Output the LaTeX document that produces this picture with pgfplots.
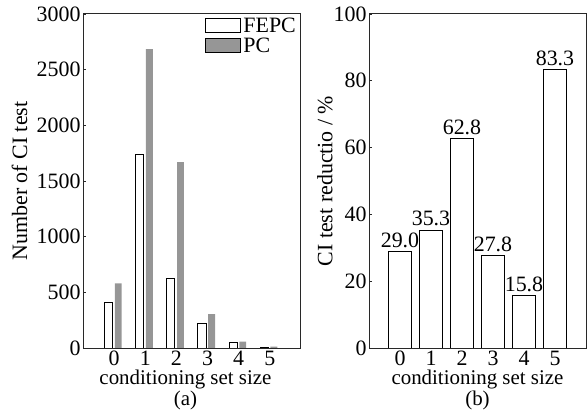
\documentclass[border=0pt]{standalone}
\usepackage{fontspec}
\setmainfont{Liberation Serif}
\usepackage{pgfplots}
\pgfplotsset{compat=1.18}
\definecolor{pcgray}{RGB}{150,150,150}
\definecolor{frame}{RGB}{40,40,40}

\pgfplotsset{panel/.style={
  scale only axis, width=218bp, height=334bp,
  font=\fontsize{22}{20}\selectfont,
  /pgf/number format/assume math mode=true,
  axis line style={frame,line width=1bp},
  xmin=-1, xmax=6, xtick={0,...,5},
  xtick style={draw=none},
  xticklabel style={inner sep=0pt, anchor=north, yshift=-3bp},
  ytick pos=left, tick align=inside, major tick length=3bp,
  ytick style={frame,line width=0.8bp},
  xlabel style={align=center, anchor=north, inner sep=0pt, font=\fontsize{21}{21}\selectfont},
  ylabel style={anchor=center},
  yticklabel style={xshift=1bp},
  scaled y ticks=false,
}}

\begin{document}
\begin{tikzpicture}
\useasboundingbox (0,0) rectangle (587bp,413bp);

% (a) number of CI tests
\begin{axis}[panel, at={(83bp,65bp)}, anchor=south west,
  ymin=0, ymax=3000, ytick={0,500,...,3000},
  yticklabel style={/pgf/number format/.cd,set thousands separator={}},
  xlabel={conditioning set size\\(a)},
  xlabel style={at={(axis description cs:0.47,-0.066)}},
  ylabel={Number of CI test},
  ylabel style={at={(axis description cs:-0.291,0.5)}},
  legend style={draw=none,fill=none,at={(1,1)},anchor=north east,
    font=\fontsize{22}{22}\selectfont,row sep=0bp},
  legend cell align=left]
\addplot[ybar, bar width=0.26, bar shift=-0.18, draw=black, fill=white, line width=1bp,
  legend image code/.code={\draw[black,fill=white,line width=1bp] (0bp,-6bp) rectangle (35bp,8bp);}]
  coordinates {(0,412) (1,1737) (2,621) (3,220) (4,48) (5,2)};
\addlegendentry{FEPC}
\addplot[ybar, bar width=0.22, bar shift=0.13, draw=none, fill=pcgray,
  legend image code/.code={\draw[black,fill=pcgray,line width=1bp] (0bp,-6bp) rectangle (35bp,8bp);}]
  coordinates {(0,580) (1,2685) (2,1670) (3,305) (4,57) (5,12)};
\addlegendentry{PC}
\end{axis}

% (b) CI test reduction
\begin{axis}[panel, at={(369bp,65bp)}, anchor=south west, width=217bp,
  ymin=0, ymax=100, ytick={0,20,...,100},
  xlabel={conditioning set size\\(b)},
  xlabel style={at={(axis description cs:0.5,-0.066)}},
  ylabel={CI test reductio / \%},
  ylabel style={at={(axis description cs:-0.203,0.5)}},
  nodes near coords,
  nodes near coords style={font=\fontsize{22}{22}\selectfont,
    /pgf/number format/.cd,fixed,fixed zerofill,precision=1,assume math mode=true}]
\addplot[ybar, bar width=0.77, draw=black, fill=white, line width=1bp]
  coordinates {(0,29.0) (1,35.3) (2,62.8) (3,27.8) (4,15.8) (5,83.3)};
\end{axis}
\end{tikzpicture}
\end{document}
